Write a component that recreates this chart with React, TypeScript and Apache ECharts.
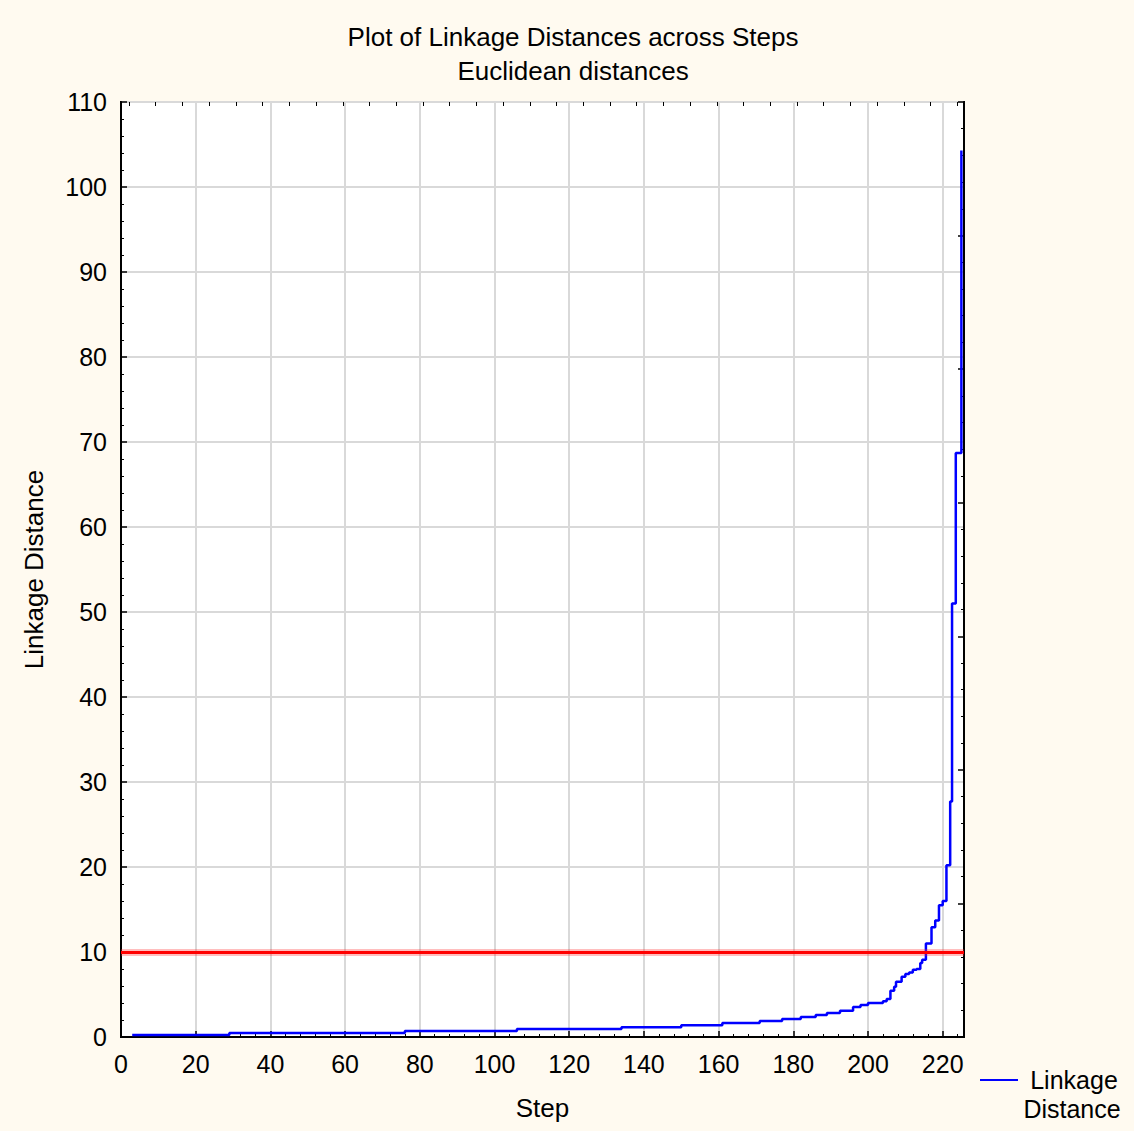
import React, { useEffect, useRef } from "react";
import * as echarts from "echarts";

// Step positions (x) where the linkage distance changes, and the new distance
const steps = [3, 29, 76, 106, 134, 150, 161, 171, 177, 182, 186, 189, 192.5, 196, 198, 200, 204, 205, 206, 207, 207.5, 209, 210, 211, 212, 213, 214, 214.5, 215.5, 217, 218, 219, 220, 221, 222, 222.5, 223.5, 225];
const distances = [0.25, 0.47, 0.7, 0.94, 1.14, 1.37, 1.65, 1.88, 2.12, 2.35, 2.59, 2.82, 3.1, 3.53, 3.76, 4.0, 4.2, 4.47, 5.45, 5.9, 6.5, 7.1, 7.4, 7.6, 7.9, 8.0, 8.7, 9.1, 11.0, 12.9, 13.7, 15.5, 16.0, 20.2, 27.7, 51.0, 68.7, 104.3];

const cutoff = 10;
const xTicks = [0, 20, 40, 60, 80, 100, 120, 140, 160, 180, 200, 220];
const yTicks = [0, 10, 20, 30, 40, 50, 60, 70, 80, 90, 100, 110];
// decorative top-frame tick marks (in frame units)
const topTicks = [0, 1, 2, 3, 4, 5, 6, 7, 8, 9, 10, 11, 12, 13, 14, 15, 16, 17, 18, 19, 20, 21, 22, 23, 24, 25, 26, 27, 28, 29, 30, 31];

const titleText = "Plot of Linkage Distances across Steps";
const subTitleText = "Euclidean distances";
const seriesName = "Linkage Distance";

const FONT = "'Liberation Sans', Arial, sans-serif";

export default function App() {
  const ref = useRef<HTMLDivElement>(null);

  useEffect(() => {
    if (!ref.current) return;
    const chart = echarts.init(ref.current, null, { renderer: "svg" });
    const data = steps.map((s, i) => [s, distances[i]]);

    const tickStyle = { color: "#000", width: 1.5 };

    chart.setOption({
      animation: false,
      backgroundColor: "#fffaf0",
      textStyle: { fontFamily: FONT, color: "#000" },
      title: [
        {
          text: titleText,
          left: 573,
          top: 24,
          textAlign: "center",
          padding: 0,
          textStyle: { fontFamily: FONT, fontSize: 26, fontWeight: "normal", color: "#000" },
        },
        {
          text: subTitleText,
          left: 573,
          top: 58,
          textAlign: "center",
          padding: 0,
          textStyle: { fontFamily: FONT, fontSize: 26, fontWeight: "normal", color: "#000" },
        },
      ],
      grid: {
        left: 121,
        right: 170,
        top: 102,
        bottom: 94,
        show: true,
        backgroundColor: "#ffffff",
        borderColor: "#000",
        borderWidth: 2,
      },
      xAxis: [
        {
          type: "value",
          position: "bottom",
          min: 0,
          max: 225.7,
          interval: 20,
          name: "Step",
          nameLocation: "middle",
          nameGap: 58,
          nameTextStyle: { fontFamily: FONT, fontSize: 26, color: "#000" },
          axisLine: { show: true, onZero: false, lineStyle: { color: "#000", width: 2 } },
          axisTick: { show: true, inside: true, length: 6, lineStyle: tickStyle },
          minorTick: { show: true, splitNumber: 5, length: 3, lineStyle: { color: "#000", width: 1 } },
          axisLabel: {
            fontFamily: FONT,
            fontSize: 25,
            color: "#000",
            margin: 14,
            customValues: xTicks,
          },
          splitLine: { show: true, lineStyle: { color: "#d9d9d9", width: 2 } },
        },
        {
          type: "value",
          position: "top",
          min: -0.3,
          max: 31.25,
          axisLine: { show: false, onZero: false },
          axisTick: { show: true, inside: true, length: 4, customValues: topTicks, lineStyle: { color: "#000", width: 1 } },
          axisLabel: { show: false },
          splitLine: { show: false },
        },
      ],
      yAxis: [
        {
          type: "value",
          position: "left",
          min: 0,
          max: 110,
          interval: 10,
          name: seriesName,
          nameLocation: "middle",
          nameGap: 74,
          nameTextStyle: { fontFamily: FONT, fontSize: 26, color: "#000" },
          axisLine: { show: true, onZero: false, lineStyle: { color: "#000", width: 2 } },
          axisTick: { show: true, inside: true, length: 6, lineStyle: tickStyle },
          minorTick: { show: true, splitNumber: 5, length: 3, lineStyle: { color: "#000", width: 1 } },
          axisLabel: { fontFamily: FONT, fontSize: 25, color: "#000", margin: 14, customValues: yTicks },
          splitLine: { show: true, lineStyle: { color: "#d9d9d9", width: 2 } },
        },
        {
          type: "value",
          position: "right",
          min: 0,
          max: 7,
          interval: 1,
          axisLine: { show: true, onZero: false, lineStyle: { color: "#000", width: 2 } },
          axisTick: { show: true, inside: true, length: 6, lineStyle: tickStyle },
          minorTick: { show: true, splitNumber: 5, length: 3, lineStyle: { color: "#000", width: 1 } },
          axisLabel: { show: false },
          splitLine: { show: false },
        },
      ],
      series: [
        {
          name: seriesName,
          type: "line",
          step: "end",
          xAxisIndex: 0,
          yAxisIndex: 0,
          data,
          showSymbol: false,
          symbol: "none",
          lineStyle: { color: "#0000ff", width: 2.5 },
          markLine: {
            silent: true,
            symbol: ["none", "none"],
            label: { show: false },
            data: [
              { yAxis: cutoff, lineStyle: { color: "rgba(255,40,40,0.3)", width: 7, type: "solid" } },
              { yAxis: cutoff, lineStyle: { color: "#ff0000", width: 3, type: "solid" } },
            ],
          },
        },
      ],
      graphic: [
        {
          type: "line",
          shape: { x1: 980, y1: 1080, x2: 1018, y2: 1080 },
          style: { stroke: "#0000ff", lineWidth: 2 },
        },
        {
          type: "text",
          x: 1074,
          y: 1080,
          style: {
            text: "Linkage",
            fontFamily: FONT,
            fontSize: 25,
            fill: "#000",
            align: "center",
            verticalAlign: "middle",
          },
        },
        {
          type: "text",
          x: 1072,
          y: 1109,
          style: {
            text: "Distance",
            fontFamily: FONT,
            fontSize: 25,
            fill: "#000",
            align: "center",
            verticalAlign: "middle",
          },
        },
      ],
    });

    return () => chart.dispose();
  }, []);

  return (
    <div
      ref={ref}
      style={{ position: "absolute", left: 0, top: 0, width: 1134, height: 1131, background: "#fffaf0" }}
    />
  );
}
